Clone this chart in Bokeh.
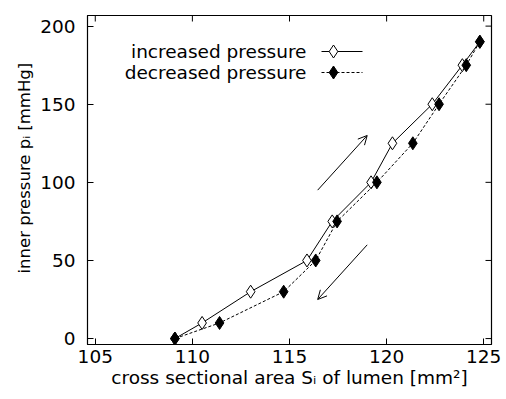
from bokeh.plotting import figure
from bokeh.models import Range1d, FixedTicker, Arrow, OpenHead, Title
from bokeh.core.properties import value
from bokeh.embed import file_html
from bokeh.resources import INLINE

# ---- data ----
pressure_up = [0, 10, 30, 50, 75, 100, 125, 150, 175, 190]
area_up = [109.1, 110.5, 113.0, 115.9, 117.2, 119.2, 120.3, 122.35, 123.9, 124.8]
pressure_down = [190, 175, 150, 125, 100, 75, 50, 30, 10, 0]
area_down = [124.8, 124.1, 122.7, 121.35, 119.5, 117.45, 116.35, 114.7, 111.4, 109.1]

x_ticks = [105, 110, 115, 120, 125]
y_ticks = [0, 50, 100, 150, 200]

series_names = ["increased pressure", "decreased pressure"]
x_title = "cross sectional area S\u1d62 of lumen [mm\u00b2]"
y_title = "inner pressure p\u1d62 [mmHg]"

# arrows (direction indicators) in data coordinates
arrow_up = (116.45, 95, 119.0, 130)
arrow_down = (119.0, 60, 116.45, 25)

FONT = "DejaVu Sans"
FS = "18.5px"
XS, XE = 104.6, 125.4
YS, YE = -3.8, 206.8
W, H = 506, 399
L, R, T, B = 87, 15, 15, 55
TICK = 6

p = figure(width=W, height=H, output_backend="svg", toolbar_location=None,
           x_range=Range1d(XS, XE), y_range=Range1d(YS, YE),
           min_border_left=L, min_border_right=R, min_border_top=T, min_border_bottom=B,
           x_axis_label=x_title)
p.grid.visible = False
p.outline_line_color = "black"
p.outline_line_width = 1.2
p.background_fill_color = "white"
p.border_fill_color = "white"

p.xaxis.ticker = FixedTicker(ticks=x_ticks)
p.yaxis.ticker = FixedTicker(ticks=y_ticks)

for ax in list(p.xaxis) + list(p.yaxis):
    ax.major_tick_in = TICK
    ax.major_tick_out = 0
    ax.minor_tick_line_color = None
    ax.axis_line_color = "black"
    ax.major_label_text_font = FONT
    ax.major_label_text_font_size = FS
    ax.major_label_text_color = "black"
    ax.axis_label_text_font = FONT
    ax.axis_label_text_font_size = FS
    ax.axis_label_text_font_style = "normal"
    ax.axis_label_text_color = "black"
p.xaxis.major_label_standoff = 5
p.xaxis.axis_label_standoff = 1
p.yaxis.major_label_standoff = 12

# y axis title as a side title, starting 71 px above the frame bottom
ytitle = Title(text=y_title, align="left", offset=71, standoff=8,
               text_font=FONT, text_font_size="16.5px", text_font_style="normal",
               text_color="black")
p.add_layout(ytitle, "left")


def sx(px):
    return XS + (px - L) / (W - L - R) * (XE - XS)


def sy(py):
    return YE - (py - T) / (H - T - B) * (YE - YS)


dx = (XE - XS) / (W - L - R)
dy = (YE - YS) / (H - T - B)

# mirrored inward ticks on top and right borders
p.segment(x0=x_ticks, y0=[YE] * len(x_ticks), x1=x_ticks,
          y1=[YE - TICK * dy] * len(x_ticks), line_color="black", line_width=1)
p.segment(x0=[XE] * len(y_ticks), y0=y_ticks, x1=[XE - TICK * dx] * len(y_ticks),
          y1=y_ticks, line_color="black", line_width=1)

# series
p.line(area_up, pressure_up, line_color="black", line_width=1)
p.scatter(area_up, pressure_up, marker="diamond", size=13, fill_color="white",
          line_color="black", line_width=1)
p.line(area_down, pressure_down, line_color="black", line_width=1, line_dash="3 2")
p.scatter(area_down, pressure_down, marker="diamond", size=13, fill_color="black",
          line_color="black", line_width=1)

# direction arrows
for (x0, y0, x1, y1) in (arrow_up, arrow_down):
    p.add_layout(Arrow(x_start=x0, y_start=y0, x_end=x1, y_end=y1,
                       line_color="black", line_width=1,
                       end=OpenHead(size=9, line_color="black", line_width=1)))

# manual legend (text left, sample right)
leg_y = [sy(51), sy(72)]
p.text(x=[sx(306)] * 2, y=leg_y, text=series_names, text_align="right",
       text_baseline="middle", text_font=value(FONT), text_font_size=FS,
       text_color="black")
p.segment(x0=[sx(321)], y0=[leg_y[0]], x1=[sx(362)], y1=[leg_y[0]],
          line_color="black", line_width=1)
p.segment(x0=[sx(321)], y0=[leg_y[1]], x1=[sx(362)], y1=[leg_y[1]],
          line_color="black", line_width=1, line_dash="3 2")
p.scatter([sx(333)], [leg_y[0]], marker="diamond", size=13, fill_color="white",
          line_color="black")
p.scatter([sx(333)], [leg_y[1]], marker="diamond", size=13, fill_color="black",
          line_color="black")

open("out.html", "w").write(file_html(p, INLINE))
